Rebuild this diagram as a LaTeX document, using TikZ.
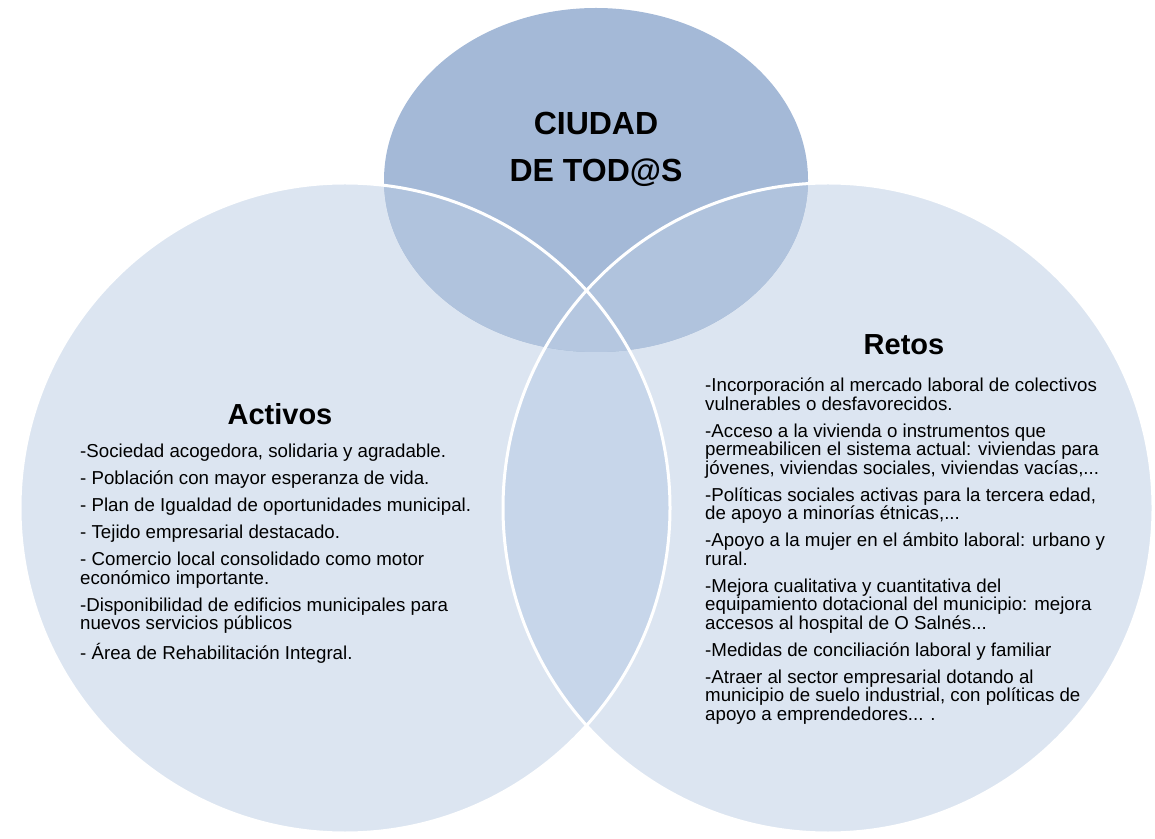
\documentclass[tikz,border=0pt]{standalone}
\usepackage{fontspec}
\setmainfont{Liberation Sans}
\definecolor{vennclaro}{HTML}{DCE5F1}
\definecolor{vennlente}{HTML}{C7D6EA}
\definecolor{vennoscuro}{HTML}{A4B9D7}
\definecolor{vennmedio}{HTML}{B0C3DD}
\definecolor{venncentro}{HTML}{B5C7E0}
\usetikzlibrary{positioning}

% circulos del diagrama
\def\circizq{(345,330) circle (325pt)}
\def\circder{(828,330) circle (325pt)}
\def\circarriba{(596,658) ellipse [x radius=212pt, y radius=172pt]}

\begin{document}
\begin{tikzpicture}[x=1pt, y=1pt,
        titulo/.style={align=center, font=\bfseries\fontsize{32}{47}\selectfont},
        cabecera/.style={font=\bfseries\fontsize{29}{30}\selectfont},
        lista/.style={align=left, inner sep=0pt, anchor=north west,
                      font=\fontsize{18.7}{18.5}\selectfont},
        borde/.style={draw=white, line width=3pt}
      ]
        \useasboundingbox (0,0) rectangle (1155,838);
        \fill[vennclaro] \circizq;
        \fill[vennclaro] \circder;
        \begin{scope}
          \clip \circizq;
          \fill[vennlente] \circder;
        \end{scope}
        \fill[vennoscuro] \circarriba;
        \begin{scope}
          \clip \circarriba;
          \fill[vennmedio] \circizq;
          \fill[vennmedio] \circder;
          \clip \circizq;
          \fill[venncentro] \circder;
        \end{scope}
        \draw[borde] \circizq;
        \draw[borde] \circder;

        \node[titulo] (ciudad) at (596,689) {CIUDAD\\DE TOD@S};
        \node[cabecera, anchor=base] (activos) at (280,413) {Activos};
        \node[cabecera, anchor=base] (retos) at (904,483) {Retos};

        \node[lista] (listaA) at (80,394) {%
          -Sociedad acogedora, solidaria y agradable.\\[8.5pt]
          - Población con mayor esperanza de vida.\\[8.5pt]
          - Plan de Igualdad de oportunidades municipal.\\[8.5pt]
          - Tejido empresarial destacado.\\[8.5pt]
          - Comercio local consolidado como motor\\
          económico importante.\\[8.5pt]
          -Disponibilidad de edificios municipales para\\
          nuevos servicios públicos\\[8.5pt]
          - Área de Rehabilitación Integral.};
        \node[lista] (listaR) at (705,460) {%
          -Incorporación al mercado laboral de colectivos\\
          vulnerables o desfavorecidos.\\[8.5pt]
          -Acceso a la vivienda o instrumentos que\\
          permeabilicen el sistema actual: viviendas para\\
          jóvenes, viviendas sociales, viviendas vacías,...\\[8.5pt]
          -Políticas sociales activas para la tercera edad,\\
          de apoyo a minorías étnicas,...\\[8.5pt]
          -Apoyo a la mujer en el ámbito laboral: urbano y\\
          rural.\\[8.5pt]
          -Mejora cualitativa y cuantitativa del\\
          equipamiento dotacional del municipio: mejora\\
          accesos al hospital de O Salnés...\\[8.5pt]
          -Medidas de conciliación laboral y familiar\\[8.5pt]
          -Atraer al sector empresarial dotando al\\
          municipio de suelo industrial, con políticas de\\
          apoyo a emprendedores... .};
      \end{tikzpicture}
\end{document}
